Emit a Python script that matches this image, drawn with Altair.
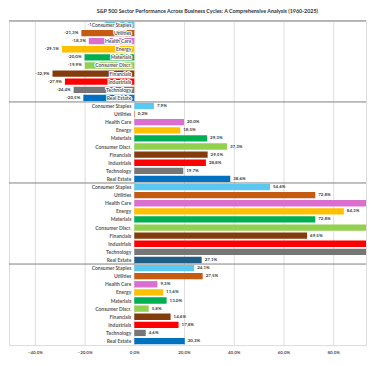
import altair as alt
import pandas as pd

phases = ["Recession", "Early Recovery", "Mid Cycle", "Late Cycle"]
sectors = ["Consumer Staples", "Utilities", "Health Care", "Energy", "Materials",
           "Consumer Discr.", "Financials", "Industrials", "Technology", "Real Estate"]
recession = [-11.9, -21.3, -18.3, -29.1, -20.0, -19.9, -32.9, -27.9, -24.4, -20.5]
early_recovery = [7.9, 0.2, 20.0, 18.5, 29.3, 37.3, 29.5, 28.8, 19.7, 38.6]
mid_cycle = [54.6, 72.8, 108.0, 84.3, 72.8, 115.0, 69.5, 93.3, 130.0, 27.1]
late_cycle = [24.1, 27.5, 9.3, 11.6, 13.0, 5.8, 14.6, 17.8, 4.6, 20.3]
sector_colors = ["#5BC8F2", "#C55A11", "#DA6FD0", "#FFC000", "#00B050",
                 "#92D050", "#843C0C", "#FF0000", "#767676", "#0070C0"]
mid_real_estate_color = "#1F5F87"
x_ticks = [-40, -20, 0, 20, 40, 60, 80]

series = [recession, early_recovery, mid_cycle, late_cycle]
rows = []
for p, vals in zip(phases, series):
    for i, (s, v) in enumerate(zip(sectors, vals)):
        col = sector_colors[i]
        if p == "Mid Cycle" and s == "Real Estate":
            col = mid_real_estate_color
        rows.append({
            "phase": p, "sector": s, "key": f"{p}|{s}", "value": v,
            "color": col, "first": i == 0,
            "vtext": f"{v:.1f}%".replace(".", ","),
        })
df = pd.DataFrame(rows)
keys = list(df["key"])

FONT = "Lato"
xscale = alt.Scale(domain=[-50.4, 93.2], nice=False, zero=False)
yscale = alt.Scale(paddingInner=0.22, paddingOuter=0.11)
yenc = alt.Y("key:N", sort=keys, scale=yscale, axis=None)

base = alt.Chart(df)

bars = base.mark_bar(clip=True).encode(
    x=alt.X("value:Q", scale=xscale,
            axis=alt.Axis(values=x_ticks,
                          labelExpr="replace(format(datum.value, '.1f'), '.', ',') + '%'",
                          title=None, grid=True, gridColor="#dedede", gridWidth=1,
                          domain=False, ticks=False, labelFontSize=4.5,
                          labelColor="#555555", labelPadding=4, labelFont=FONT,
                          labelFontWeight="bold")),
    x2=alt.datum(0),
    y=yenc,
    color=alt.Color("color:N", scale=None),
)

pos_labels = base.transform_filter("datum.value >= 0").mark_text(
    align="left", baseline="middle", dx=3, fontSize=4.5, fontWeight="bold",
    color="#404040", font=FONT, clip=True
).encode(x=alt.X("value:Q", scale=xscale), y=yenc, text="vtext:N")

neg_labels = base.transform_filter("datum.value < 0").mark_text(
    align="right", baseline="middle", dx=-3, fontSize=4.5, fontWeight="bold",
    color="#404040", font=FONT, clip=True
).encode(x=alt.X("value:Q", scale=xscale), y=yenc, text="vtext:N")

cat_halo = base.transform_filter("datum.phase == 'Recession'").mark_text(
    align="right", baseline="middle", dx=-3, fontSize=5, fontWeight="bold",
    color="white", stroke="white", strokeWidth=2, font=FONT
).encode(x=alt.datum(0, scale=xscale), y=yenc, text="sector:N")

cat_labels = base.mark_text(
    align="right", baseline="middle", dx=-3, fontSize=5, fontWeight="bold",
    color="#595959", font=FONT
).encode(x=alt.datum(0, scale=xscale), y=yenc, text="sector:N")

rules = base.transform_filter("datum.first").mark_rule(
    color="#808080", strokeWidth=1, yOffset=-0.9
).encode(y=alt.Y("key:N", sort=keys, bandPosition=0, scale=yscale, axis=None))

chart = alt.layer(bars, rules, neg_labels, pos_labels, cat_halo, cat_labels).properties(
    width=359, height=326, padding=0,
    title=alt.TitleParams(
        "S&P 500 Sector Performance Across Business Cycles: A Comprehensive Analysis (1960-2025)",
        fontSize=5.4, fontWeight="bold", color="#333333", font=FONT,
        anchor="middle", dx=20, offset=6),
).configure_view(stroke=None).configure(font=FONT)

chart.save("out.html", embed_options={"renderer": "svg", "actions": False})
